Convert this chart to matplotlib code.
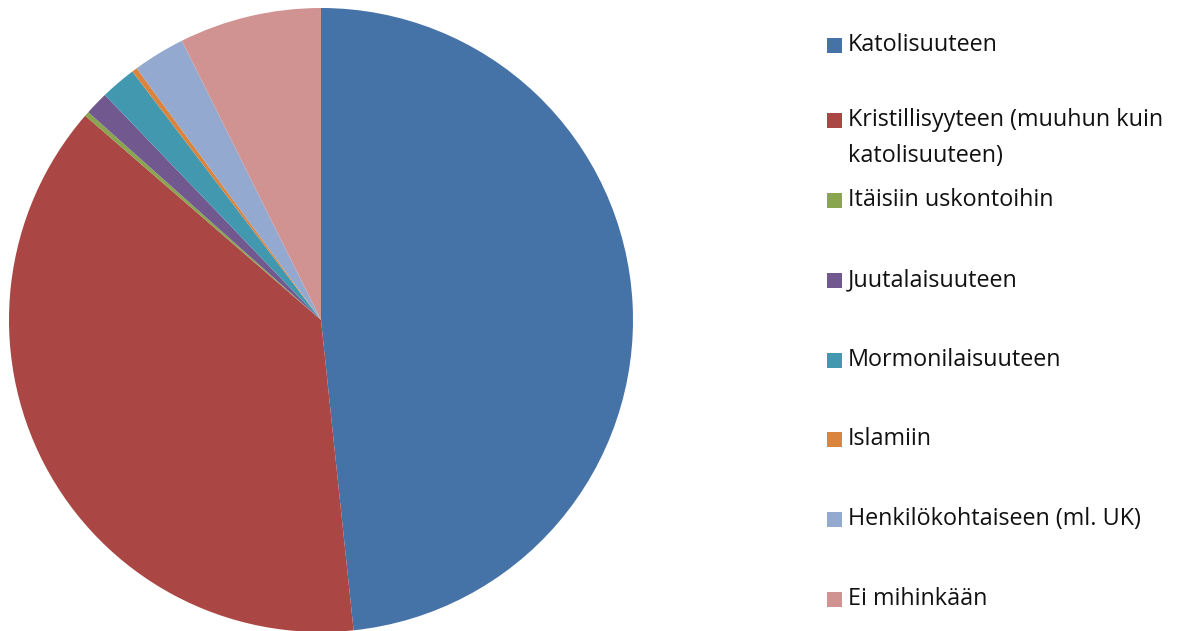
import matplotlib
matplotlib.use("Agg")
import matplotlib.pyplot as plt
from matplotlib.patches import Rectangle

# Shares (percent)
labels = [
    "Katolisuuteen",
    "Kristillisyyteen (muuhun kuin\nkatolisuuteen)",
    "Itäisiin uskontoihin",
    "Juutalaisuuteen",
    "Mormonilaisuuteen",
    "Islamiin",
    "Henkilökohtaiseen (ml. UK)",
    "Ei mihinkään",
]
shares = [48.3, 38.0, 0.24, 1.22, 1.84, 0.28, 2.7, 7.35]
colors = ["#4572A7", "#AA4643", "#89A54E", "#71588F",
          "#4198AF", "#DB843D", "#93A9CF", "#D19392"]

W, H = 1184, 631
fig = plt.figure(figsize=(W / 100, H / 100), dpi=100)

# pie area: centre (321, 320) px, radius 312 px
cx, cy, r = 321, 320, 312
ax = fig.add_axes([(cx - r) / W, (H - cy - r) / H, 2 * r / W, 2 * r / H])
ax.pie(shares, colors=colors, startangle=90, counterclock=False,
       wedgeprops=dict(linewidth=0))
ax.set_xlim(-1, 1)
ax.set_ylim(-1, 1)
ax.axis("off")

# legend drawn by hand to match the spacing of the original
row_y = [45, 120, 200, 280, 360, 439, 519, 599]
font = ["Open Sans", "DejaVu Sans"]
for lab, col, y in zip(labels, colors, row_y):
    fig.patches.append(Rectangle(((827) / W, (H - y - 7.5) / H), 15 / W, 15 / H,
                                 transform=fig.transFigure, facecolor=col,
                                 edgecolor="none"))
    lines = lab.split("\n")
    for i, line in enumerate(lines):
        fig.text(848 / W, (H - y - 36 * i) / H, line, fontsize=16.8,
                 family=font, color="#111111", va="center")

fig.savefig("out.png", dpi=100)
